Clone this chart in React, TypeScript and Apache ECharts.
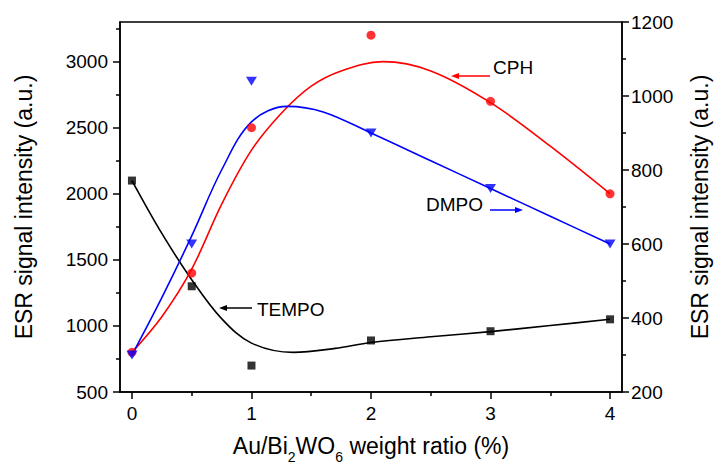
import React, { useEffect, useRef } from "react";
import * as echarts from "echarts";

// measured points
const pointX = [0, 0.5, 1, 2, 3, 4];
const tempoValues = [2100, 1300, 700, 890, 960, 1050]; // left axis
const cphValues = [800, 1400, 2500, 3200, 2700, 2000]; // left axis
const dmpoValues = [300, 600, 1040, 900, 750, 600]; // right axis

// fitted curves
const tempoFitX = [0, 0.25, 0.5, 0.75, 1, 1.35, 1.7, 2, 2.5, 3, 3.5, 4];
const tempoFit = [2100, 1700, 1350, 1055, 870, 800, 830, 875, 918, 957, 1003, 1050];
const cphFitX = [0, 0.25, 0.5, 0.75, 1, 1.25, 1.5, 1.75, 2.1, 2.5, 3, 3.5, 4];
const cphFit = [800, 1070, 1430, 1920, 2330, 2610, 2815, 2930, 3000, 2930, 2690, 2360, 2000];
const dmpoFitX = [0, 0.25, 0.5, 0.75, 1, 1.3, 1.6, 2, 2.5, 3, 3.5, 4];
const dmpoFit = [300, 455, 622, 800, 930, 972, 957, 900, 825, 750, 675, 600];

const xTicks = [0, 1, 2, 3, 4];
const xMinorTicks = [0.5, 1.5, 2.5, 3.5];
const leftTicks = [500, 1000, 1500, 2000, 2500, 3000];
const leftMinorTicks = [750, 1250, 1750, 2250, 2750, 3250];

const FONT = '"Liberation Sans", Arial, sans-serif';

const zip = (xs: number[], ys: number[]) => xs.map((x, i) => [x, ys[i]]);

export default function App() {
  const ref = useRef<HTMLDivElement>(null);
  useEffect(() => {
    if (!ref.current) return;
    const chart = echarts.init(ref.current, null, { renderer: "svg" });
    const axisLine = { show: true, onZero: false, lineStyle: { color: "#000", width: 1.5 } };
    const lbl = { color: "#000", fontFamily: FONT, fontSize: 19, formatter: (v: number) => String(v) };
    const nameStyle = { color: "#000", fontFamily: FONT, fontSize: 23 };
    const ptSeries = (name: string, data: number[][], yAxisIndex: number, color: string, symbol: string, size: any, rot = 0) => ({
      name,
      type: "scatter",
      xAxisIndex: 0,
      yAxisIndex,
      data,
      symbol,
      symbolSize: size,
      symbolRotate: rot,
      itemStyle: { color },
      z: 5,
    });
    const fitSeries = (name: string, data: number[][], yAxisIndex: number, color: string) => ({
      name,
      type: "line",
      xAxisIndex: 0,
      yAxisIndex,
      data,
      smooth: 0.35,
      showSymbol: false,
      lineStyle: { color, width: 1.6 },
      z: 3,
    });
    chart.setOption({
      animation: false,
      backgroundColor: "#fff",
      grid: {
        left: 120,
        right: 92,
        top: 22,
        bottom: 72,
        show: true,
        borderColor: "#000",
        borderWidth: 1.5,
        containLabel: false,
        outerBoundsMode: "none",
      },
      xAxis: [
        {
          type: "value",
          min: -0.1,
          max: 4.1,
          position: "bottom",
          axisLine,
          axisTick: { show: true, customValues: xTicks, length: 7, lineStyle: { color: "#000", width: 1.5 } },
          axisLabel: { ...lbl, customValues: xTicks, margin: 12 },
          splitLine: { show: false },
          name: "{n|Au/Bi}{s|2}{n|WO}{s|6}{n| weight ratio (%)}",
          nameLocation: "middle",
          nameGap: 42,
          nameTextStyle: {
            ...nameStyle,
            rich: {
              n: { fontFamily: FONT, fontSize: 23, color: "#000", lineHeight: 26, verticalAlign: "top" },
              s: { fontFamily: FONT, fontSize: 14, color: "#000", lineHeight: 8, padding: [16, 0, 0, 0], verticalAlign: "top" },
            },
          },
        },
        {
          type: "value",
          min: -0.1,
          max: 4.1,
          position: "bottom",
          axisLine: { show: false, onZero: false },
          axisTick: { show: true, customValues: xMinorTicks, length: 4, lineStyle: { color: "#000", width: 1.5 } },
          axisLabel: { show: false },
          splitLine: { show: false },
        },
      ],
      yAxis: [
        {
          type: "value",
          min: 500,
          max: 3300,
          position: "left",
          axisLine,
          axisTick: { show: true, customValues: leftTicks, length: 7, lineStyle: { color: "#000", width: 1.5 } },
          axisLabel: { ...lbl, customValues: leftTicks, margin: 12 },
          splitLine: { show: false },
          name: "ESR signal intensity (a.u.)",
          nameLocation: "middle",
          nameRotate: 90,
          nameGap: 85,
          nameTextStyle: nameStyle,
        },
        {
          type: "value",
          min: 200,
          max: 1200,
          interval: 200,
          position: "right",
          axisLine,
          axisTick: { show: true, length: 7, lineStyle: { color: "#000", width: 1.5 } },
          minorTick: { show: true, splitNumber: 2, length: 4, lineStyle: { color: "#000", width: 1.5 } },
          axisLabel: { ...lbl, margin: 9 },
          splitLine: { show: false },
          name: "ESR signal intensity (a.u.)",
          nameLocation: "middle",
          nameRotate: 90,
          nameGap: 66,
          nameTextStyle: nameStyle,
        },
        {
          type: "value",
          min: 500,
          max: 3300,
          position: "left",
          axisLine: { show: false, onZero: false },
          axisTick: { show: true, customValues: leftMinorTicks, length: 4, lineStyle: { color: "#000", width: 1.5 } },
          axisLabel: { show: false },
          splitLine: { show: false },
        },
      ],
      series: [
        fitSeries("TEMPO fit", zip(tempoFitX, tempoFit), 0, "#000000"),
        fitSeries("CPH fit", zip(cphFitX, cphFit), 0, "#ff0000"),
        fitSeries("DMPO fit", zip(dmpoFitX, dmpoFit), 1, "#0000ff"),
        ptSeries("TEMPO", zip(pointX, tempoValues), 0, "#000000", "rect", 8),
        ptSeries("CPH", zip(pointX, cphValues), 0, "#ff0000", "circle", 9),
        ptSeries("DMPO", zip(pointX, dmpoValues), 1, "#0000ff", "triangle", [11, 9], 180),
      ],
      graphic: [
        { type: "text", x: 493, y: 67, style: { text: "CPH", fill: "#000", font: `19px ${FONT}`, align: "left", verticalAlign: "middle" } },
        { type: "line", shape: { x1: 490, y1: 76, x2: 456, y2: 76 }, style: { stroke: "#ff0000", lineWidth: 1.5 } },
        { type: "polygon", shape: { points: [[451, 76], [459, 73], [459, 79]] }, style: { fill: "#ff0000" } },
        { type: "text", x: 426, y: 204, style: { text: "DMPO", fill: "#000", font: `19px ${FONT}`, align: "left", verticalAlign: "middle" } },
        { type: "line", shape: { x1: 490, y1: 210, x2: 517, y2: 210 }, style: { stroke: "#0000ff", lineWidth: 1.5 } },
        { type: "polygon", shape: { points: [[523, 210], [515, 207], [515, 213]] }, style: { fill: "#0000ff" } },
        { type: "text", x: 257, y: 309, style: { text: "TEMPO", fill: "#000", font: `19px ${FONT}`, align: "left", verticalAlign: "middle" } },
        { type: "line", shape: { x1: 252, y1: 308, x2: 225, y2: 308 }, style: { stroke: "#000", lineWidth: 1.5 } },
        { type: "polygon", shape: { points: [[219, 308], [227, 305], [227, 311]] }, style: { fill: "#000" } },
      ],
    });
    return () => chart.dispose();
  }, []);
  return <div ref={ref} style={{ width: 714, height: 464, position: "absolute", left: 0, top: 0 }} />;
}
